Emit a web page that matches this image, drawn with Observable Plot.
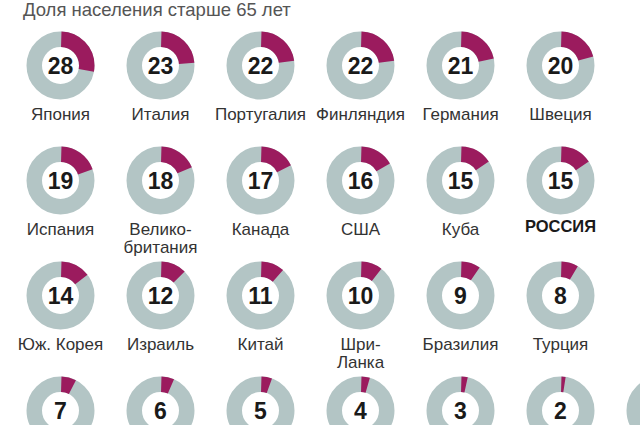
<!DOCTYPE html>
<html>
<head>
<meta charset="utf-8">
<script src="https://cdn.jsdelivr.net/npm/d3@7"></script>
<script src="https://cdn.jsdelivr.net/npm/@observablehq/plot@0.6"></script>
<style>
  html, body { margin: 0; padding: 0; background: #ffffff; }
  body { width: 640px; height: 425px; overflow: hidden; font-family: "Liberation Sans", Arial, sans-serif; }
  #title { height: 22px; line-height: 20px; padding-left: 23px; font-size: 18.5px; color: #555; white-space: nowrap; }
  #chart svg { display: block; }
</style>
</head>
<body>
<div id="title">Доля населения старше 65 лет</div>
<div id="chart"></div>
<script>
// Data (share of population aged 65+, %)
const countries = [
  "Япония", "Италия", "Португалия", "Финляндия", "Германия", "Швеция",
  "Испания", "Велико-\nбритания", "Канада", "США", "Куба", "РОССИЯ",
  "Юж. Корея", "Израиль", "Китай", "Шри-\nЛанка", "Бразилия", "Турция",
  "", "", "", "", "", "", ""
];
const shares = [
  28, 23, 22, 22, 21, 20,
  19, 18, 17, 16, 15, 15,
  14, 12, 11, 10, 9, 8,
  7, 6, 5, 4, 3, 2, 1
];
const highlight = ["РОССИЯ"];

const data = shares.map((v, i) => ({
  name: countries[i],
  value: v,
  col: i < 18 ? i % 6 : i - 18,
  row: i < 18 ? Math.floor(i / 6) : 3
}));

const R = 26.25, W = 15.5, C = 2 * Math.PI * R;
const grey = "#b3c5c5", accent = "#9b1b5e";

const arcs = data.map(d => {
  const a = (d.value / 100) * C;
  return Plot.dot([d], {
    x: "col", y: "row", r: R, fill: "none", stroke: accent, strokeWidth: W,
    strokeDasharray: `${a} ${C - a}`,
    strokeDashoffset: C / 4
  });
});

const visible = data.filter(d => d.col < 6);

const chart = Plot.plot({
  width: 640,
  height: 403,
  x: { type: "linear", domain: [0, 6], range: [60, 660], axis: null },
  y: { type: "linear", domain: [0, 3], range: [43, 388], axis: null },
  style: { fontFamily: "'Liberation Sans', Arial, sans-serif", background: "transparent", overflow: "hidden" },
  marks: [
    Plot.dot(data, { x: "col", y: "row", r: R, fill: "none", stroke: grey, strokeWidth: W }),
    ...arcs,
    Plot.text(visible, { x: "col", y: "row", text: d => String(d.value), fontSize: 23, fontWeight: "bold", fill: "#1a1a1a", lineAnchor: "middle", dy: 1 }),
    Plot.text(visible.filter(d => !highlight.includes(d.name)), { x: "col", y: "row", text: "name", fontSize: 17, fill: "#333", lineAnchor: "top", dy: 41, lineHeight: 1.1 }),
    Plot.text(visible.filter(d => highlight.includes(d.name)), { x: "col", y: "row", text: "name", fontSize: 16.5, fontWeight: "bold", fill: "#1a1a1a", lineAnchor: "top", dy: 40 })
  ]
});
document.getElementById("chart").appendChild(chart);
</script>
</body>
</html>
